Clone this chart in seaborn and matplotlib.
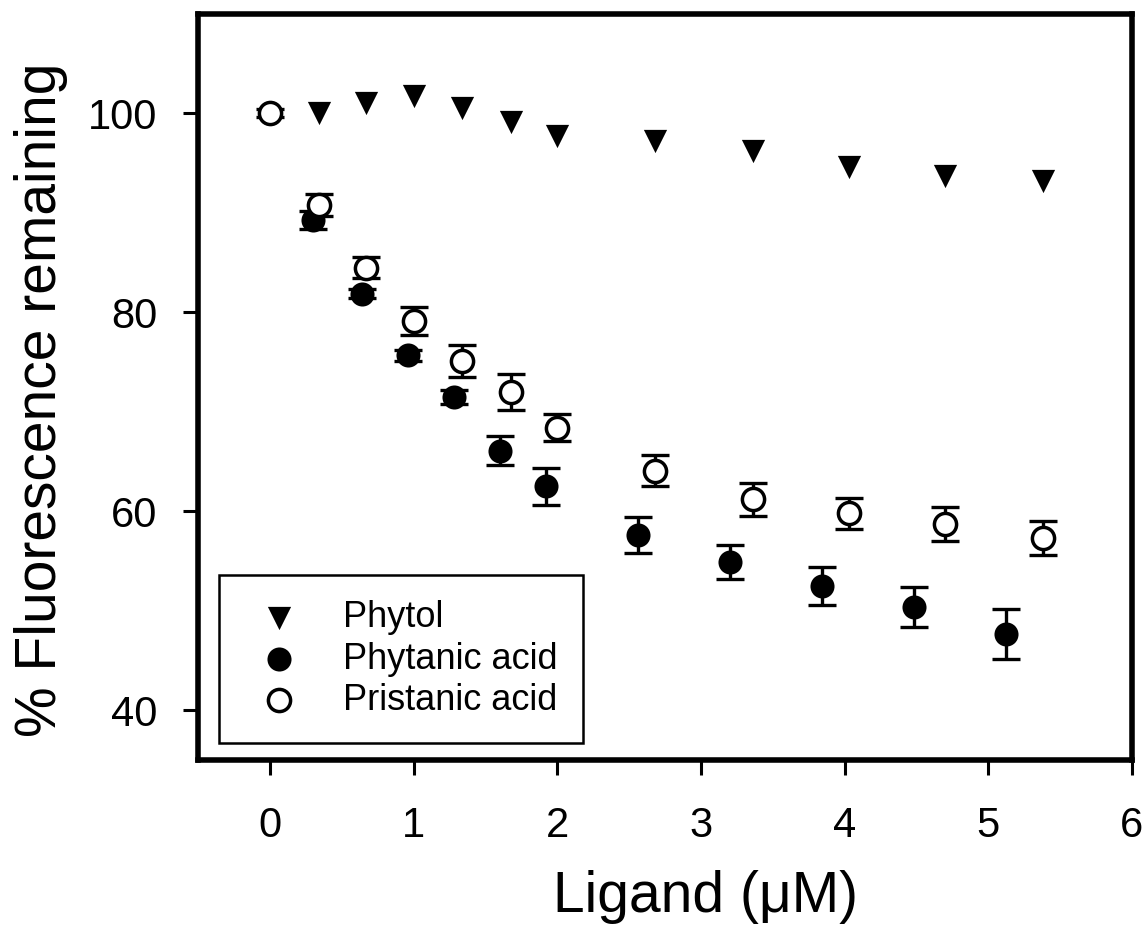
import matplotlib
matplotlib.use("Agg")
import matplotlib.pyplot as plt
import seaborn as sns
import pandas as pd

# ---- data ----
phytol_x = [0.34, 0.67, 1.00, 1.34, 1.68, 2.00, 2.68, 3.36, 4.03, 4.70, 5.38]
phytol_y = [100.0, 101.1, 101.8, 100.5, 99.1, 97.7, 97.2, 96.2, 94.6, 93.7, 93.2]

phytanic_x = [0.30, 0.64, 0.96, 1.28, 1.60, 1.92, 2.56, 3.20, 3.84, 4.48, 5.12]
phytanic_y = [89.3, 81.9, 75.7, 71.5, 66.1, 62.5, 57.6, 54.9, 52.5, 50.4, 47.7]
phytanic_err = [0.9, 0.5, 0.55, 0.7, 1.45, 1.9, 1.8, 1.7, 1.9, 2.0, 2.5]

pristanic_x = [0.00, 0.34, 0.67, 1.00, 1.34, 1.68, 2.00, 2.68, 3.36, 4.03, 4.70, 5.38]
pristanic_y = [100.0, 90.8, 84.5, 79.1, 75.1, 72.0, 68.4, 64.1, 61.2, 59.8, 58.7, 57.3]
pristanic_err = [0.4, 1.1, 1.05, 1.4, 1.6, 1.8, 1.35, 1.55, 1.65, 1.55, 1.7, 1.7]

labels = ["Phytol", "Phytanic acid", "Pristanic acid"]
x_ticks = [0, 1, 2, 3, 4, 5, 6]
y_ticks = [40, 60, 80, 100]

sns.set_theme(style="ticks")
plt.rcParams["font.family"] = ["Liberation Sans", "DejaVu Sans"]
plt.rcParams["text.color"] = "black"

fig = plt.figure(figsize=(11.47, 9.27), dpi=100)
ax = fig.add_axes([0.1726, 0.1801, 0.8143, 0.8048])

# error bars
ax.errorbar(phytanic_x, phytanic_y, yerr=phytanic_err, fmt="none", ecolor="black",
            elinewidth=2.4, capsize=10, capthick=2.4, zorder=2)
ax.errorbar(pristanic_x, pristanic_y, yerr=pristanic_err, fmt="none", ecolor="black",
            elinewidth=2.4, capsize=10, capthick=2.4, zorder=2)

df_phytol = pd.DataFrame({"x": phytol_x, "y": phytol_y})
df_phytanic = pd.DataFrame({"x": phytanic_x, "y": phytanic_y})
df_pristanic = pd.DataFrame({"x": pristanic_x, "y": pristanic_y})

sns.scatterplot(data=df_phytol, x="x", y="y", marker="v", s=280, color="black",
                linewidth=0, label=labels[0], ax=ax, zorder=3)
sns.scatterplot(data=df_phytanic, x="x", y="y", marker="o", s=300, color="black",
                linewidth=0, label=labels[1], ax=ax, zorder=3)
sns.scatterplot(data=df_pristanic, x="x", y="y", marker="o", s=255, facecolor="white",
                edgecolor="black", linewidth=2.5, label=labels[2], ax=ax, zorder=4)

ax.set_xlim(-0.5, 6)
ax.set_ylim(35, 110)
ax.set_xticks(x_ticks)
ax.set_yticks(y_ticks)
ax.set_xticklabels([str(t) for t in x_ticks])
ax.set_yticklabels([str(t) for t in y_ticks])

for sp in ax.spines.values():
    sp.set_visible(True)
    sp.set_linewidth(4)
    sp.set_color("black")

ax.tick_params(axis="both", direction="out", length=11, width=2.2, color="black",
               labelsize=30, labelcolor="black")
ax.tick_params(axis="x", pad=22)
ax.tick_params(axis="y", pad=18)

ax.set_xlabel("Ligand (\u03bcM)", fontsize=41, color="black")
ax.set_ylabel("% Fluorescence remaining", fontsize=41, color="black")
ax.xaxis.set_label_coords(0.543, -0.148)
ax.yaxis.set_label_coords(-0.139, 0.483)

leg = ax.legend(loc="lower left", bbox_to_anchor=(0.0225, 0.0228), borderaxespad=0,
                fontsize=26, frameon=True, fancybox=False, edgecolor="black",
                borderpad=0.7, handlelength=1.9, handletextpad=0.83, labelspacing=0.17)
leg.get_frame().set_linewidth(1.8)
leg.get_frame().set_alpha(1)
for t in leg.get_texts():
    t.set_color("black")

fig.savefig("out.png", dpi=100)
